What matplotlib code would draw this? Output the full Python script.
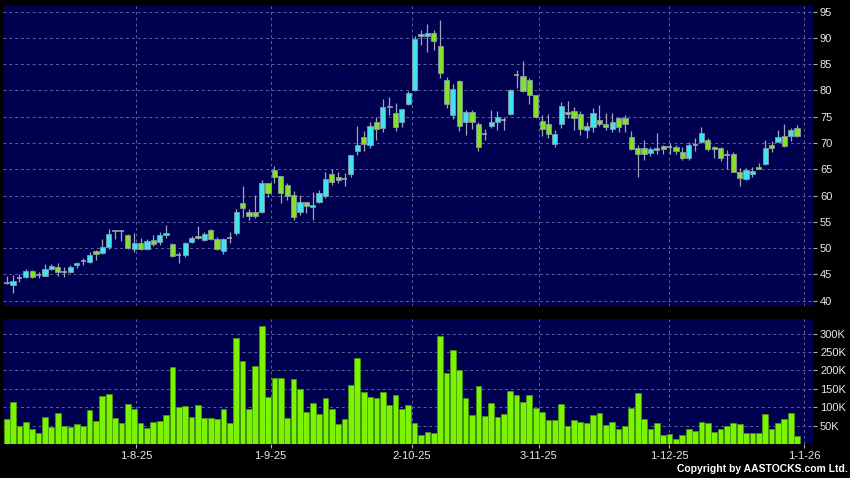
import matplotlib
matplotlib.use('Agg')
import matplotlib.pyplot as plt

# Daily prices (open, high, low, close), one entry per trading day
opens = [43.6, 43.0, 44.4, 44.5, 45.6, 44.9, 44.8, 46.1, 46.35, 45.5,
         45.5, 46.8, 47.5, 47.4, 49.4, 49.0, 50.2, 53.4, 53.25, 52.5,
         49.9, 51.0, 49.75, 51.6, 51.1, 52.5, 50.8, 48.75, 48.75, 51.1,
         52.3, 51.6, 53.4, 51.75, 49.5, 51.9, 52.8, 58.5, 56.9, 56.9,
         56.9, 62.3, 64.8, 63.7, 62.0, 60.2, 56.8, 58.7, 57.9, 58.7,
         60.0, 64.2, 63.6, 63.2, 64.2, 68.5, 71.1, 69.7, 74.0, 72.8,
         76.8, 75.8, 73.9, 77.5, 80.0, 90.3, 90.4, 91.0, 88.4, 81.9,
         75.4, 81.7, 74.0, 75.9, 73.7, 71.8, 73.3, 73.9, 74.4, 75.6,
         82.9, 82.8, 81.9, 79.2, 74.1, 73.6, 69.9, 73.6, 75.9, 76.1,
         75.5, 72.5, 73.0, 74.4, 73.7, 72.6, 74.7, 74.7, 71.1, 69.0,
         69.0, 68.1, 69.1, 69.5, 69.2, 69.3, 68.2, 67.2, 69.7, 70.1,
         70.6, 69.3, 69.0, 67.7, 68.0, 64.4, 63.1, 64.05, 65.5, 66.0,
         69.6, 70.25, 71.4, 71.4, 72.9]
highs = [44.7, 44.9, 45.0, 46.1, 45.8, 45.4, 46.9, 46.9, 47.1, 46.5,
         46.8, 47.4, 48.2, 49.2, 49.7, 51.7, 53.6, 53.4, 53.4, 52.7,
         52.9, 52.0, 51.7, 52.5, 53.0, 54.4, 51.0, 49.25, 51.25, 52.25,
         54.2, 53.0, 53.6, 52.1, 51.9, 53.15, 57.5, 61.8, 57.5, 60.2,
         62.9, 62.3, 65.6, 63.8, 62.3, 60.8, 60.2, 58.8, 60.7, 61.0,
         64.4, 65.0, 64.4, 64.3, 67.7, 73.3, 72.3, 73.9, 75.0, 78.4,
         78.8, 77.6, 76.4, 79.9, 90.3, 91.4, 92.7, 91.4, 93.4, 82.5,
         81.3, 81.9, 76.2, 76.2, 74.0, 72.7, 76.3, 76.0, 75.0, 80.3,
         83.8, 85.5, 82.4, 79.2, 75.3, 75.6, 72.5, 77.8, 78.0, 76.9,
         76.0, 74.0, 76.6, 77.2, 75.8, 75.8, 75.0, 75.4, 72.2, 69.6,
         70.5, 69.3, 71.9, 69.6, 70.0, 69.6, 69.3, 70.2, 70.9, 73.0,
         70.9, 69.4, 69.3, 68.7, 68.2, 65.2, 65.2, 65.5, 66.2, 70.6,
         70.4, 72.5, 73.7, 72.9, 73.4]
lows = [43.1, 41.5, 43.6, 44.4, 44.4, 44.4, 44.7, 45.9, 44.7, 44.5,
        45.2, 46.2, 46.8, 47.2, 47.8, 48.9, 49.9, 51.7, 51.3, 49.9,
        49.3, 49.6, 49.6, 50.5, 50.6, 51.9, 48.3, 47.1, 48.3, 50.9,
        51.75, 51.4, 51.6, 49.6, 48.9, 50.95, 52.5, 56.0, 55.4, 55.7,
        56.6, 59.8, 62.3, 58.5, 59.2, 55.3, 56.3, 56.7, 55.4, 58.5,
        59.5, 62.0, 62.4, 61.9, 63.5, 67.7, 68.5, 69.0, 70.5, 72.15,
        75.3, 72.2, 73.1, 77.2, 79.9, 88.6, 87.3, 87.6, 82.4, 76.6,
        74.6, 72.2, 71.5, 72.7, 68.4, 70.6, 72.8, 72.4, 72.4, 75.3,
        80.5, 79.7, 77.4, 74.7, 71.3, 70.9, 69.3, 72.8, 74.7, 72.5,
        71.5, 70.9, 72.0, 73.2, 72.4, 72.1, 72.1, 72.1, 68.7, 63.5,
        66.8, 67.6, 67.9, 67.9, 67.9, 67.9, 66.8, 66.8, 68.5, 70.0,
        68.4, 67.2, 66.5, 65.1, 64.4, 61.9, 63.0, 63.6, 65.0, 65.9,
        68.2, 70.1, 69.3, 70.4, 71.2]
closes = [43.3, 43.85, 44.4, 45.6, 44.55, 44.9, 46.0, 46.6, 45.5, 45.5,
          46.4, 47.1, 47.5, 48.7, 48.9, 50.3, 52.7, 53.2, 53.25, 50.0,
          51.0, 49.9, 51.4, 50.8, 52.5, 52.9, 48.5, 48.75, 51.0, 51.9,
          51.9, 52.7, 51.75, 49.9, 51.7, 51.9, 56.8, 57.7, 56.2, 56.2,
          62.3, 60.5, 63.5, 60.5, 60.0, 56.0, 58.7, 58.1, 58.3, 60.4,
          63.2, 62.6, 63.0, 63.2, 67.7, 69.6, 69.8, 73.3, 72.65, 76.8,
          77.1, 73.0, 76.4, 79.6, 89.7, 90.8, 91.0, 89.4, 83.3, 77.5,
          80.2, 73.3, 75.9, 73.9, 69.2, 71.8, 74.0, 74.9, 74.4, 80.0,
          82.9, 79.9, 79.2, 75.0, 72.7, 71.8, 71.7, 77.0, 75.6, 74.7,
          72.6, 73.2, 75.8, 73.6, 73.0, 73.9, 73.0, 73.6, 68.8, 68.0,
          68.0, 68.8, 68.6, 68.8, 69.2, 68.5, 67.2, 69.7, 69.7, 71.9,
          68.8, 68.8, 67.1, 67.7, 64.55, 63.4, 64.9, 64.7, 65.1, 69.0,
          69.0, 71.1, 69.5, 72.5, 71.4]

# Daily volume in thousands of shares
volumes = [69, 115, 50, 59, 40, 30, 74, 45, 84, 49,
           47, 54, 48, 92, 63, 131, 137, 72, 58, 110,
           96, 56, 44, 60, 63, 80, 210, 100, 103, 74,
           105, 70, 71, 68, 96, 58, 288, 226, 95, 212,
           320, 129, 180, 180, 72, 178, 149, 88, 111, 81,
           124, 94, 55, 67, 160, 235, 141, 127, 125, 141,
           105, 132, 96, 105, 58, 25, 34, 29, 295, 194,
           256, 200, 126, 79, 157, 76, 112, 73, 82, 144,
           134, 115, 132, 98, 86, 66, 66, 108, 48, 65,
           61, 57, 78, 84, 51, 59, 40, 49, 98, 138,
           68, 40, 57, 25, 27, 13, 25, 41, 36, 60,
           56, 34, 40, 49, 57, 55, 31, 29, 29, 81,
           40, 58, 67, 84, 22]

# Date labels on the time axis and where they fall (trading-day index)
tick_labels = ['1-8-25', '1-9-25', '2-10-25', '3-11-25', '1-12-25', '1-1-26']
tick_pos = [20.3, 41.4, 63.6, 83.5, 103.9, 125.1]

price_ticks = [40, 45, 50, 55, 60, 65, 70, 75, 80, 85, 90, 95]
vol_ticks = [50, 100, 150, 200, 250, 300]
vol_tick_labels = ['50K', '100K', '150K', '200K', '250K', '300K']

NAVY = '#000050'
UP = '#3ee4f0'
DOWN = '#84e226'
GRID = '#5a6496'
TEXT = '#e8e8e8'


def style_axis(ax):
    ax.set_facecolor(NAVY)
    for s in ax.spines.values():
        s.set_visible(False)
    ax.yaxis.tick_right()
    ax.tick_params(axis='y', colors='#b0b0b0', labelcolor=TEXT, labelsize=8,
                   length=3, width=0.8, pad=2)
    ax.tick_params(axis='x', colors='#b0b0b0', labelcolor=TEXT, labelsize=8,
                   length=3, width=0.8, pad=2)
    ax.set_xticks(tick_pos)
    ax.grid(True, color=GRID, linestyle=(0, (3, 3)), linewidth=0.7)
    ax.set_axisbelow(True)
    ax.set_xlim(-0.58, 126.5)


def draw_candles(ax):
    n = len(opens)
    x = list(range(n))
    ax.vlines(x, lows, highs, color='#a0a4b4', linewidth=0.9, zorder=2)
    for i in range(n):
        o, c = opens[i], closes[i]
        if abs(c - o) < 0.05:
            ax.hlines(o, i - 0.4, i + 0.4, color='#a0a4b4', linewidth=1.2, zorder=3)
            continue
        col = UP if c > o else DOWN
        ax.bar(i, abs(c - o), bottom=min(o, c), width=0.82, color=col,
               edgecolor='#8898a8', linewidth=0.6, zorder=3)


plt.rcParams['font.family'] = ['Liberation Sans', 'DejaVu Sans']
fig = plt.figure(figsize=(8.5, 4.78), dpi=100, facecolor='black')

# Price panel
ax1 = fig.add_axes([0.0035, 0.3598, 0.9530, 0.6276])
style_axis(ax1)
draw_candles(ax1)
ax1.set_ylim(39.0, 96.05)
ax1.set_yticks(price_ticks)
ax1.set_xticklabels([])
ax1.tick_params(axis='x', length=0)

# Volume panel
ax2 = fig.add_axes([0.0035, 0.0711, 0.9530, 0.2615])
style_axis(ax2)
ax2.bar(range(len(volumes)), volumes, width=0.9, color='#7cf400',
        edgecolor='#4a9a10', linewidth=0.5, zorder=3)
ax2.set_ylim(0, 340)
ax2.set_yticks(vol_ticks)
ax2.set_yticklabels(vol_tick_labels)
ax2.set_xticklabels(tick_labels)

fig.text(0.997, 0.008, 'Copyright by AASTOCKS.com Ltd.', color='white',
         fontsize=7.5, ha='right', va='bottom', fontweight='bold')

fig.savefig('out.png', dpi=100, facecolor='black')
